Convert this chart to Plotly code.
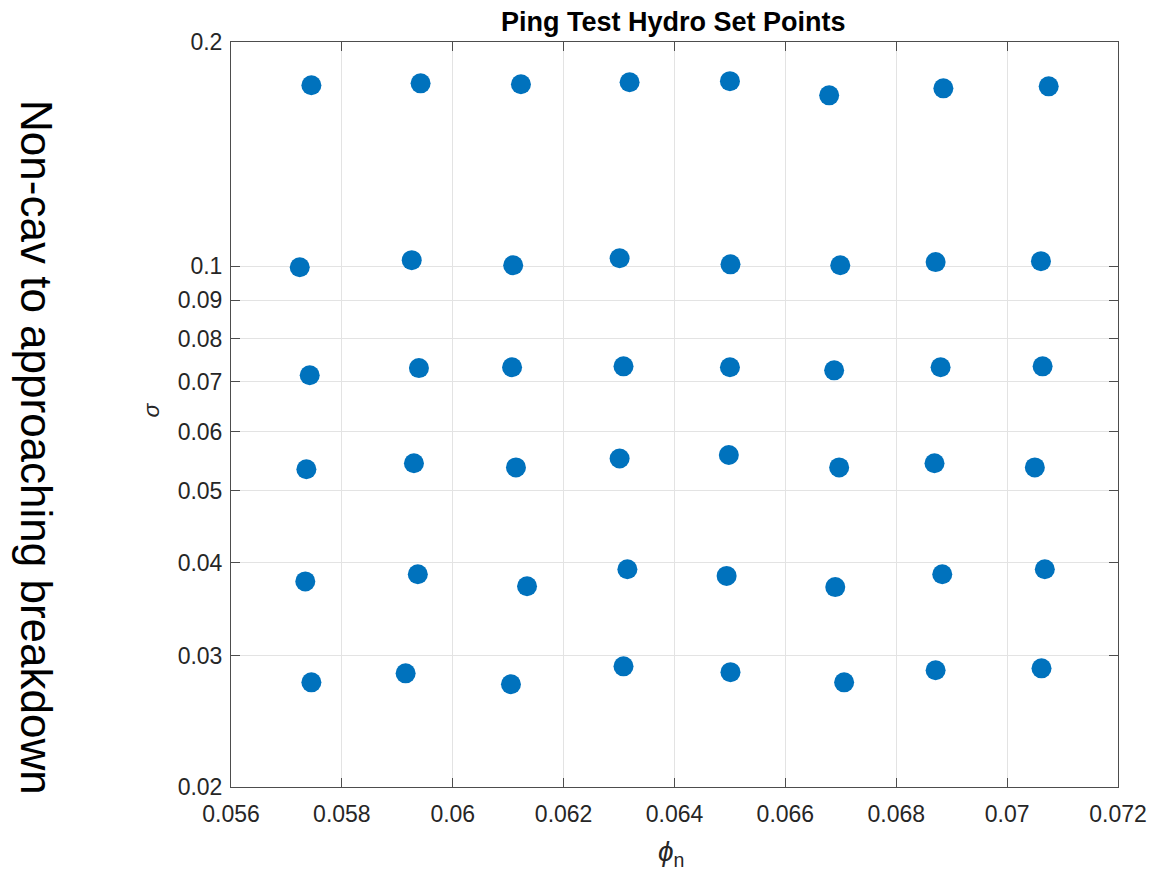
import plotly.graph_objects as go

# phi_n (x) and sigma (y) for each set point, grouped by sigma level rows
phi_row1 = [0.05745, 0.05942, 0.06123, 0.06319, 0.06500, 0.06679, 0.06885, 0.07075]
sig_row1 = [0.1750, 0.1760, 0.1755, 0.1766, 0.1772, 0.1696, 0.1733, 0.1744]
phi_row2 = [0.05724, 0.05926, 0.06109, 0.06301, 0.06501, 0.06699, 0.06871, 0.07061]
sig_row2 = [0.0997, 0.1019, 0.1003, 0.1025, 0.1006, 0.1003, 0.1013, 0.1016]
phi_row3 = [0.05742, 0.05939, 0.06107, 0.06308, 0.06500, 0.06688, 0.06880, 0.07064]
sig_row3 = [0.0714, 0.0730, 0.0732, 0.0734, 0.0732, 0.0725, 0.0732, 0.0734]
phi_row4 = [0.05736, 0.05930, 0.06114, 0.06301, 0.06498, 0.06697, 0.06869, 0.07050]
sig_row4 = [0.0534, 0.0544, 0.0537, 0.0552, 0.0558, 0.0537, 0.0544, 0.0537]
phi_row5 = [0.05734, 0.05937, 0.06134, 0.06315, 0.06494, 0.06690, 0.06883, 0.07068]
sig_row5 = [0.03776, 0.0386, 0.0372, 0.0392, 0.0384, 0.0371, 0.0386, 0.0392]
phi_row6 = [0.05745, 0.05915, 0.06105, 0.06308, 0.06501, 0.06706, 0.06871, 0.07062]
sig_row6 = [0.02764, 0.02842, 0.02748, 0.02904, 0.02852, 0.02764, 0.02869, 0.02886]

x_ticks = [0.056, 0.058, 0.06, 0.062, 0.064, 0.066, 0.068, 0.07, 0.072]
x_tick_labels = ["0.056", "0.058", "0.06", "0.062", "0.064", "0.066", "0.068", "0.07", "0.072"]
y_ticks = [0.02, 0.03, 0.04, 0.05, 0.06, 0.07, 0.08, 0.09, 0.1, 0.2]
y_tick_labels = ["0.02", "0.03", "0.04", "0.05", "0.06", "0.07", "0.08", "0.09", "0.1", "0.2"]

phi = phi_row1 + phi_row2 + phi_row3 + phi_row4 + phi_row5 + phi_row6
sig = sig_row1 + sig_row2 + sig_row3 + sig_row4 + sig_row5 + sig_row6

FONT = "Liberation Sans, Arial, Helvetica, sans-serif"
AX = "#262626"

fig = go.Figure()
fig.add_trace(go.Scatter(
    x=phi, y=sig, mode="markers",
    marker=dict(size=20, color="#0072BD", line=dict(width=0)),
    showlegend=False,
))

common = dict(
    showline=True, linecolor="#4d4d4d", linewidth=1, mirror="ticks",
    ticks="inside", ticklen=9, tickcolor="#4d4d4d", tickwidth=1,
    showgrid=True, gridcolor="#e3e3e3", gridwidth=1, zeroline=False,
    tickfont=dict(family=FONT, size=23, color=AX),
)

fig.update_xaxes(range=[0.056, 0.072], tickvals=x_ticks, ticktext=x_tick_labels,
                 ticklabelstandoff=6, **common)
fig.update_yaxes(type="log", range=[-1.69897, -0.69897], tickvals=y_ticks, ticktext=y_tick_labels,
                 ticklabelstandoff=3, **common)

fig.update_layout(
    width=1159, height=873,
    margin=dict(l=231, r=35, t=42, b=86),
    plot_bgcolor="white", paper_bgcolor="white",
    font=dict(family=FONT, color=AX),
    annotations=[
        dict(text="<b>Ping Test Hydro Set Points</b>", xref="paper", yref="paper",
             x=0.4994, y=1.027, xanchor="center", yanchor="middle", showarrow=False,
             font=dict(family=FONT, size=27, color="black")),
        dict(text="<i>σ</i>", xref="paper", yref="paper", x=-0.0896, y=0.506,
             xanchor="center", yanchor="middle", showarrow=False, textangle=-90,
             font=dict(family=FONT, size=23, color=AX)),
        dict(text="<i>ϕ</i><sub>n</sub>", xref="paper", yref="paper", x=0.496, y=-0.089,
             xanchor="center", yanchor="middle", showarrow=False,
             font=dict(family=FONT, size=28, color=AX)),
        dict(text="Non-cav to approaching breakdown", xref="paper", yref="paper",
             x=-0.2185, y=0.456, xanchor="center", yanchor="middle", showarrow=False,
             textangle=90, font=dict(family=FONT, size=44, color="black")),
    ],
)

fig.write_html("out.html")
